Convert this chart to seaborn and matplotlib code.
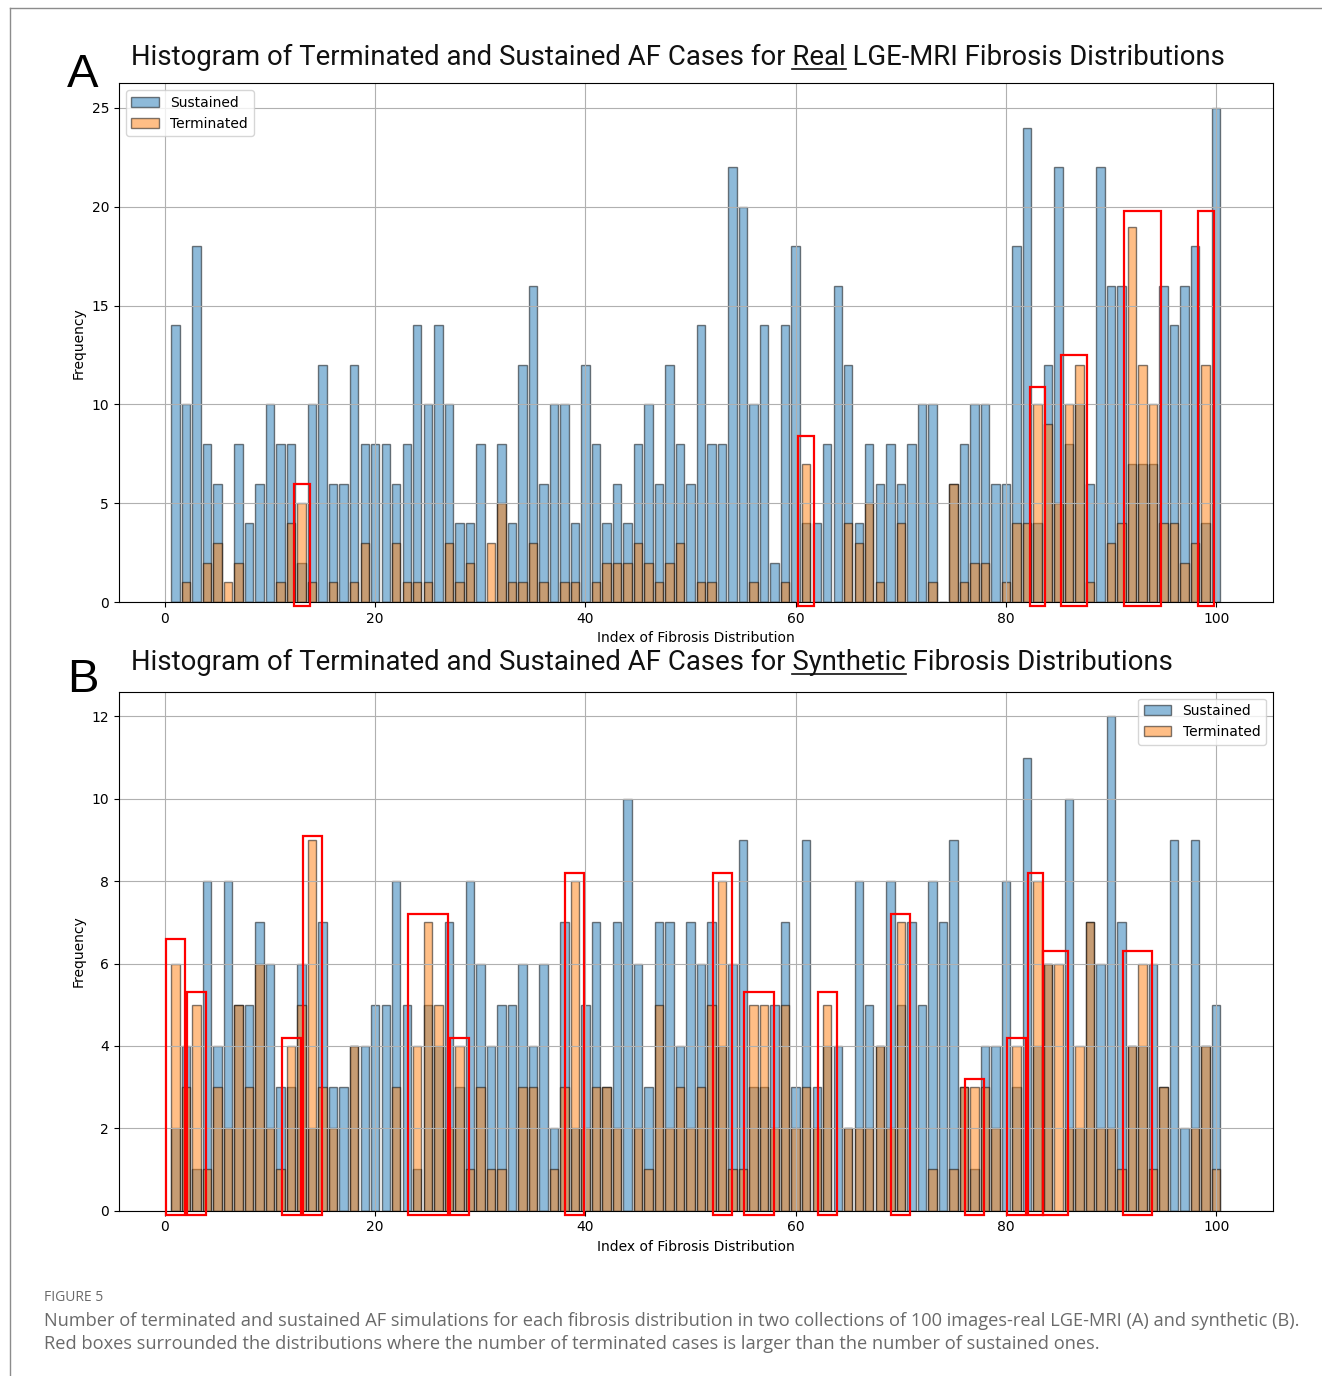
import numpy as np
import seaborn as sns
import matplotlib.pyplot as plt
from matplotlib.patches import Rectangle, Patch
from matplotlib.lines import Line2D

# ---------------------------------------------------------------- data
idx = np.arange(1, 101)

real_sustained = [14, 10, 18, 8, 6, 0, 8, 4, 6, 10,
                  8, 8, 2, 10, 12, 6, 6, 12, 8, 8,
                  8, 6, 8, 14, 10, 14, 10, 4, 4, 8,
                  0, 8, 4, 12, 16, 6, 10, 10, 4, 12,
                  8, 4, 6, 4, 8, 10, 6, 12, 8, 6,
                  14, 8, 8, 22, 20, 10, 14, 2, 14, 18,
                  4, 4, 8, 16, 12, 4, 8, 6, 8, 6,
                  8, 10, 10, 0, 6, 8, 10, 10, 6, 6,
                  18, 24, 4, 12, 22, 8, 10, 6, 22, 16,
                  16, 7, 7, 7, 16, 14, 16, 18, 4, 25]
real_terminated = [0, 1, 0, 2, 3, 1, 2, 0, 0, 0,
                   1, 4, 5, 1, 0, 1, 0, 1, 3, 0,
                   0, 3, 1, 1, 1, 0, 3, 1, 2, 0,
                   3, 5, 1, 1, 3, 1, 0, 1, 1, 0,
                   1, 2, 2, 2, 3, 2, 1, 2, 3, 0,
                   1, 1, 0, 0, 0, 1, 0, 0, 1, 0,
                   7, 0, 0, 0, 4, 3, 5, 1, 0, 4,
                   0, 0, 1, 0, 6, 1, 2, 2, 0, 1,
                   4, 4, 10, 9, 5, 10, 12, 1, 0, 3,
                   4, 19, 12, 10, 4, 4, 2, 3, 12, 0]

synth_sustained = [2, 4, 1, 8, 4, 8, 5, 5, 7, 6,
                   3, 3, 6, 2, 7, 3, 3, 4, 4, 5,
                   5, 8, 5, 1, 5, 4, 7, 3, 8, 6,
                   4, 5, 5, 6, 4, 6, 2, 7, 2, 5,
                   7, 3, 7, 10, 6, 3, 7, 7, 4, 7,
                   6, 7, 4, 6, 9, 3, 3, 5, 7, 3,
                   9, 3, 4, 4, 2, 8, 5, 4, 8, 5,
                   7, 5, 8, 7, 9, 3, 1, 4, 4, 8,
                   3, 11, 4, 6, 0, 10, 2, 7, 6, 12,
                   7, 4, 4, 6, 3, 9, 2, 9, 4, 5]
synth_terminated = [6, 3, 5, 1, 3, 2, 5, 3, 6, 2,
                    1, 4, 5, 9, 3, 2, 0, 4, 0, 0,
                    0, 3, 0, 4, 7, 5, 2, 4, 1, 3,
                    1, 1, 0, 3, 3, 0, 1, 3, 8, 2,
                    3, 3, 2, 0, 2, 1, 5, 2, 3, 2,
                    3, 5, 8, 1, 1, 5, 5, 2, 5, 2,
                    3, 2, 5, 0, 2, 2, 2, 4, 2, 7,
                    0, 0, 1, 0, 1, 3, 3, 3, 2, 0,
                    4, 0, 8, 6, 6, 2, 4, 7, 2, 2,
                    1, 4, 6, 1, 3, 0, 0, 2, 4, 1]

# red boxes drawn around the distributions (first index, last index, box top)
real_box_first = [13, 61, 83, 86, 92, 99]
real_box_last = [13, 61, 83, 87, 94, 99]
real_box_top = [6.0, 8.4, 10.9, 12.5, 19.8, 19.8]

synth_box_first = [1, 3, 12, 14, 24, 28, 39, 53, 56, 63, 70, 77, 81, 83, 84, 92]
synth_box_last = [1, 3, 12, 14, 26, 28, 39, 53, 57, 63, 70, 77, 81, 83, 85, 93]
synth_box_top = [6.6, 5.3, 4.2, 9.1, 7.2, 4.2, 8.2, 8.2, 5.3, 5.3, 7.2, 3.2, 4.2, 8.2, 6.3, 6.3]

caption_1 = ("Number of terminated and sustained AF simulations for each fibrosis distribution in two "
             "collections of 100 images-real LGE-MRI (A) and synthetic (B).")
caption_2 = ("Red boxes surrounded the distributions where the number of terminated cases is larger "
             "than the number of sustained ones.")

BLUE = "#1f77b4"
ORANGE = "#ff7f0e"
EDGE = (0, 0, 0, 0.5)
W, H = 1322, 1376

plt.rcParams["font.family"] = ["DejaVu Sans"]
fig = plt.figure(figsize=(W / 100, H / 100), dpi=100)
renderer = fig.canvas.get_renderer()


def text_width(t):
    return t.get_window_extent(renderer).width


def fit(t, px):
    t.set_fontsize(t.get_fontsize() * px / text_width(t))
    return t.get_fontsize()


def draw_panel(ax, sus, ter, b_first, b_last, b_top, pad, leg_loc, yticks):
    sns.histplot(x=idx, weights=sus, discrete=True, shrink=0.8, color=BLUE,
                 alpha=0.5, edgecolor=EDGE, linewidth=1, ax=ax)
    sns.histplot(x=idx, weights=ter, discrete=True, shrink=0.8, color=ORANGE,
                 alpha=0.5, edgecolor=EDGE, linewidth=1, ax=ax)
    xl = ax.get_xlim()
    yl = ax.get_ylim()
    low = -0.008 * yl[1]

    # box edges; neighbouring boxes share one edge
    lefts = [f - pad for f in b_first]
    rights = [l + pad for l in b_last]
    for k in range(len(lefts) - 1):
        if rights[k] > lefts[k + 1]:
            mid = (rights[k] + lefts[k + 1]) / 2
            rights[k] = lefts[k + 1] = mid
    for x0, x1, t in zip(lefts, rights, b_top):
        ax.add_patch(Rectangle((x0, low), x1 - x0, t - low,
                               fill=False, edgecolor="red", linewidth=1.6,
                               clip_on=False, zorder=5))
    ax.set_xlim(xl)
    ax.set_ylim(yl)
    ax.set_xticks([0, 20, 40, 60, 80, 100])
    ax.set_yticks(yticks)
    ax.grid(True)
    ax.set_xlabel("Index of Fibrosis Distribution")
    ax.set_ylabel("Frequency")
    handles = [Patch(facecolor=BLUE, edgecolor="black", alpha=0.5, label="Sustained"),
               Patch(facecolor=ORANGE, edgecolor="black", alpha=0.5, label="Terminated")]
    ax.legend(handles=handles, loc=leg_loc)


ax_a = fig.add_axes([0.0899, 0.5624, 0.8729, 0.3771])
ax_b = fig.add_axes([0.0899, 0.1202, 0.8729, 0.3771])
draw_panel(ax_a, real_sustained, real_terminated, real_box_first, real_box_last,
           real_box_top, 0.75, "upper left", [0, 5, 10, 15, 20, 25])
draw_panel(ax_b, synth_sustained, synth_terminated, synth_box_first, synth_box_last,
           synth_box_top, 0.9, "upper right", [0, 2, 4, 6, 8, 10, 12])

# titles with one underlined word
TITLE_FONT = ["Roboto", "DejaVu Sans"]
pre = "Histogram of Terminated and Sustained AF Cases for "
tA = fig.text(131 / W, 1 - 65 / H, pre + "Real LGE-MRI Fibrosis Distributions",
              fontsize=18, family=TITLE_FONT, va="baseline", color="#111111")
fs = fit(tA, 1090)


def underline(x, y_px, first, word):
    a = fig.text(x, 0.5, first + word, fontsize=fs, family=TITLE_FONT)
    b = fig.text(x, 0.5, word, fontsize=fs, family=TITLE_FONT)
    w1, w2 = text_width(a), text_width(b)
    a.remove()
    b.remove()
    x0 = x + (w1 - w2) / W
    fig.add_artist(Line2D([x0, x + w1 / W], [1 - (y_px + 4) / H] * 2,
                          color="#111111", linewidth=1.2))


underline(131 / W, 65, pre, "Real")
fig.text(131 / W, 1 - 670 / H, pre + "Synthetic Fibrosis Distributions",
         fontsize=fs, family=TITLE_FONT, va="baseline", color="#111111")
underline(131 / W, 670, pre, "Synthetic")

fig.text(67 / W, 1 - 87 / H, "A", fontsize=34, family=["Liberation Sans"], va="baseline")
fig.text(67 / W, 1 - 692 / H, "B", fontsize=34, family=["Liberation Sans"], va="baseline")

# caption
CAP_FONT = ["Open Sans", "DejaVu Sans"]
fig.text(44 / W, 1 - 1301 / H, "FIGURE 5", fontsize=10, family=CAP_FONT,
         color="#6a6a6a", va="baseline")
c1 = fig.text(44 / W, 1 - 1326 / H, caption_1, fontsize=12, family=CAP_FONT,
              color="#6a6a6a", va="baseline")
cfs = fit(c1, 1254)
fig.text(44 / W, 1 - 1349 / H, caption_2, fontsize=cfs, family=CAP_FONT,
         color="#6a6a6a", va="baseline")

# page border
fig.add_artist(Line2D([10 / W, 1], [1 - 8 / H] * 2, color="#8c8c8c", linewidth=1))
fig.add_artist(Line2D([10 / W] * 2, [0, 1 - 8 / H], color="#8c8c8c", linewidth=1))

fig.savefig("out.png", dpi=100)
